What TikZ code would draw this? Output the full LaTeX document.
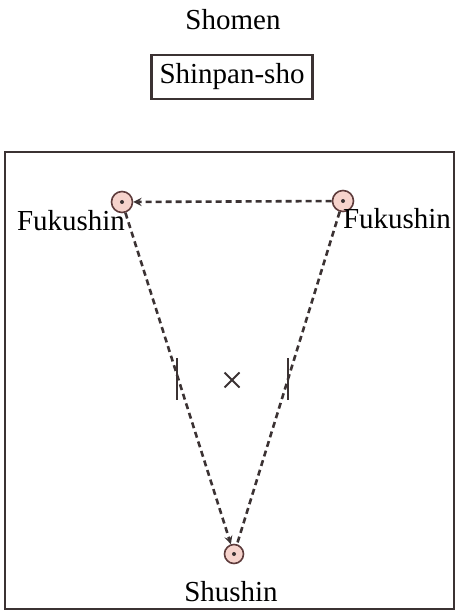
\documentclass[tikz,border=0pt]{standalone}
\usepackage{fontspec}
\setmainfont{Liberation Serif}
\usetikzlibrary{shapes.misc}
\definecolor{ink}{HTML}{3B3233}
\definecolor{judgefill}{HTML}{F6D3CC}
\definecolor{judgeline}{HTML}{5E3C3C}
\begin{document}
\begin{tikzpicture}[x=1pt, y=-1pt, >=stealth,
    every node/.style={font=\fontsize{29}{33}\selectfont, text=black},
    judge/.style={circle, draw=judgeline, fill=judgefill, line width=1.6pt, minimum size=21pt, inner sep=0pt},
    walk/.style={ink, line width=2.6pt, dash pattern=on 6pt off 4pt}]
    \useasboundingbox (0,0) rectangle (458,612);

    % Court
    \draw[ink, line width=2.6pt] (5,152) rectangle (454,609);

    % Front side
    \node[anchor=base] (shomen) at (233,30) {Shomen};
    \node[draw=ink, line width=2.4pt, inner sep=3pt, minimum height=44pt, minimum width=161pt] (shinpansho) at (232,77) {Shinpan-sho};

    % Referees
    \node[judge] (fukuL) at (122,202) {};
    \node[judge] (fukuR) at (343,201) {};
    \node[judge, minimum size=19pt] (shushin) at (234,554) {};
    \foreach \j in {fukuL, fukuR, shushin}
        \fill[ink] (\j) circle (2pt);

    \node[anchor=base] (labelL) at (71,230) {Fukushin};
    \node[anchor=base] (labelR) at (397,229) {Fukushin};
    \node[anchor=base] (labelS) at (231,601) {Shushin};

    % Movement
    \draw[walk, ->] (fukuR) -- (fukuL);
    \draw[walk, ->] (fukuL) -- (shushin);
    \draw[walk] (fukuR) -- (shushin);

    % Centre mark and lines
    \node[cross out, draw=ink, line width=2pt, minimum size=13pt, inner sep=0pt] (centre) at (232,380) {};
    \coordinate (tickL) at (177,379);
    \coordinate (tickR) at (288,379);
    \draw[ink, line width=2.2pt] ([yshift=21pt]tickL) -- ([yshift=-21pt]tickL);
    \draw[ink, line width=2.2pt] ([yshift=21pt]tickR) -- ([yshift=-21pt]tickR);
\end{tikzpicture}
\end{document}
